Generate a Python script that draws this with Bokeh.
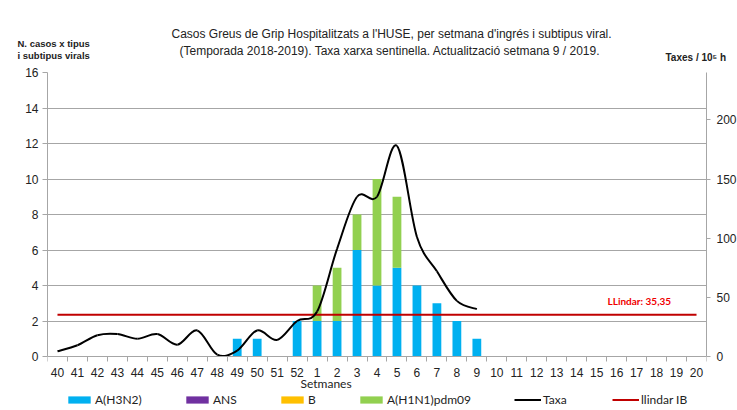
from bokeh.plotting import figure
from bokeh.models import (Range1d, LinearAxis, FixedTicker, Legend, LegendItem,
                          ColumnDataSource, Title, Label)
from bokeh.embed import file_html
from bokeh.resources import INLINE

# ---------------- data ----------------
weeks = [40, 41, 42, 43, 44, 45, 46, 47, 48, 49, 50, 51, 52,
         1, 2, 3, 4, 5, 6, 7, 8, 9, 10, 11, 12, 13, 14, 15, 16, 17, 18, 19, 20]
week_labels = [str(w) for w in weeks]

h3n2 = [0, 0, 0, 0, 0, 0, 0, 0, 0, 1, 1, 0, 2,
        2, 2, 6, 4, 5, 4, 3, 2, 1, 0, 0, 0, 0, 0, 0, 0, 0, 0, 0, 0]
ans = [0] * 33
b = [0] * 33
h1n1 = [0, 0, 0, 0, 0, 0, 0, 0, 0, 0, 0, 0, 0,
        2, 3, 2, 6, 4, 0, 0, 0, 0, 0, 0, 0, 0, 0, 0, 0, 0, 0, 0, 0]

# sentinel-network rate (per 10^5), weeks 40 .. 9
taxa = [4.4, 9.5, 18, 19, 15, 19, 10, 22, 1.6, 5, 22, 14, 30,
        38, 91, 135, 135, 178, 101, 72, 47, 40]
threshold = 35.35

series_names = ["A(H3N2)", "ANS", "B", "A(H1N1)pdm09"]
series_colors = ["#00B0F0", "#7030A0", "#FFC000", "#92D050"]

cases_max = 16
rate_max = 240

# ---------------- figure ----------------
FONT = "Liberation Sans"
LEGF = "Lato"
GRID = "#A6A6A6"
TXT = "#222222"

n = len(weeks)
xc = [i + 0.5 for i in range(n)]

FRAME_H = 338          # frame runs down to the canvas bottom; 0 sits 54 px above it
PLOT_H = 284
below = (FRAME_H - PLOT_H) / PLOT_H   # fraction of the value span kept below zero

p = figure(frame_width=659, frame_height=FRAME_H, x_range=Range1d(0, n),
           y_range=Range1d(-cases_max * below, cases_max),
           output_backend="svg", toolbar_location=None,
           min_border_left=47, min_border_right=31, min_border_top=72, min_border_bottom=0)
p.extra_y_ranges = {"rate": Range1d(-rate_max * below, rate_max)}
p.outline_line_color = None

src = ColumnDataSource(dict(x=xc, **{"A(H3N2)": h3n2, "ANS": ans, "B": b, "A(H1N1)pdm09": h1n1}))
bars = p.vbar_stack(series_names, x="x", width=0.44, color=series_colors,
                    line_color=None, source=src)

thr = p.line([xc[0], xc[-1]], [threshold, threshold], y_range_name="rate",
             line_color="#C00000", line_width=2)

# smooth rate line (cubic bezier segments with Catmull-Rom tangents)
tx = xc[:len(taxa)]
pts = list(zip(tx, taxa))
x0, y0, x1, y1, cx0, cy0, cx1, cy1 = [], [], [], [], [], [], [], []
for i in range(len(pts) - 1):
    pm = pts[i - 1] if i > 0 else pts[i]
    pa = pts[i]
    pb = pts[i + 1]
    pn = pts[i + 2] if i + 2 < len(pts) else pts[i + 1]
    x0.append(pa[0]); y0.append(pa[1]); x1.append(pb[0]); y1.append(pb[1])
    cx0.append(pa[0] + (pb[0] - pm[0]) / 6); cy0.append(pa[1] + (pb[1] - pm[1]) / 6)
    cx1.append(pb[0] - (pn[0] - pa[0]) / 6); cy1.append(pb[1] - (pn[1] - pa[1]) / 6)
p.bezier(x0=x0, y0=y0, x1=x1, y1=y1, cx0=cx0, cy0=cy0, cx1=cx1, cy1=cy1,
         y_range_name="rate", line_color="black", line_width=2)
taxa_leg = p.line([tx[0]], [taxa[0]], y_range_name="rate", line_color="black", line_width=2)

# ---------------- axes ----------------
p.xgrid.visible = False
p.ygrid.ticker = FixedTicker(ticks=list(range(2, cases_max + 1, 2)))
p.ygrid.grid_line_color = GRID

xa = p.xaxis[0]
xa.fixed_location = 0
xa.ticker = FixedTicker(ticks=xc, minor_ticks=list(range(0, n + 1)))
xa.major_label_overrides = {v: lab for v, lab in zip(xc, week_labels)}
xa.major_tick_out = 0
xa.major_tick_in = 0
xa.minor_tick_out = 5
xa.minor_tick_in = 0
xa.minor_tick_line_color = GRID
xa.axis_line_color = GRID
xa.major_label_text_font = FONT
xa.major_label_text_font_size = "12px"
xa.major_label_text_color = TXT
xa.major_label_standoff = 6

ya = p.yaxis[0]
ya.bounds = (0, cases_max)
ya.ticker = FixedTicker(ticks=list(range(0, cases_max + 1, 2)))
ya.major_tick_out = 5
ya.major_tick_in = 0
ya.minor_tick_line_color = None
ya.axis_line_color = GRID
ya.major_tick_line_color = GRID
ya.major_label_text_font = FONT
ya.major_label_text_font_size = "12px"
ya.major_label_text_color = TXT
ya.major_label_standoff = 4

ra = LinearAxis(y_range_name="rate", ticker=FixedTicker(ticks=[0, 50, 100, 150, 200]),
                bounds=(0, rate_max))
ra.major_tick_out = 4
ra.major_tick_in = 0
ra.minor_tick_line_color = None
ra.axis_line_color = GRID
ra.major_tick_line_color = GRID
ra.major_label_text_font = FONT
ra.major_label_text_font_size = "12px"
ra.major_label_text_color = TXT
ra.major_label_standoff = 6
p.add_layout(ra, "right")

# ---------------- titles (above, stacked outward from the frame) ----------------
p.add_layout(Title(text="Taxes / 10⁵ h", align="left", offset=618, standoff=20,
                   text_font=FONT, text_font_size="10px", text_font_style="bold",
                   text_color=TXT), "above")
p.add_layout(Title(text="N.  casos x tipus\ni subtipus virals", align="left", offset=-30,
                   standoff=-44, text_line_height=1.18, text_font=FONT, text_font_size="9.5px",
                   text_font_style="bold", text_color=TXT), "above")
p.add_layout(Title(text="(Temporada 2018-2019). Taxa xarxa sentinella.  Actualització setmana  9 / 2019.",
                   align="left", offset=132, standoff=-36,
                   text_font=FONT, text_font_size="12px", text_font_style="normal",
                   text_color=TXT), "above")
p.add_layout(Title(text="Casos  Greus de Grip Hospitalitzats a l'HUSE, per setmana  d'ingrés i subtipus viral.",
                   align="left", offset=124, standoff=-2,
                   text_font=FONT, text_font_size="12px", text_font_style="normal",
                   text_color=TXT), "above")

# ---------------- texts inside the (extended) frame ----------------
p.add_layout(Label(x=560, y=110, x_units="screen", y_units="screen", text="LLindar: 35,35",
                   text_font=LEGF, text_font_size="10px", text_font_style="bold",
                   text_color="#F00000", text_baseline="middle"))
p.add_layout(Label(x=253, y=27, x_units="screen", y_units="screen", text="Setmanes",
                   text_font=LEGF, text_font_size="12px", text_color=TXT,
                   text_baseline="middle"))

# legend: one entry per box, placed like the original
leg_entries = [("A(H3N2)", bars[0], 18), ("ANS", bars[1], 136), ("B", bars[2], 231),
               ("A(H1N1)pdm09", bars[3], 310), ("Taxa", taxa_leg, 467),
               ("llindar IB", thr, 565)]
for name, rend, xpos in leg_entries:
    lg = Legend(items=[LegendItem(label=name, renderers=[rend])], location=(xpos, 3),
                orientation="horizontal", padding=0, margin=0, spacing=0,
                glyph_width=28 if rend not in (taxa_leg, thr) else 27, glyph_height=9,
                label_height=14, label_standoff=2,
                label_text_font=LEGF, label_text_font_size="12px",
                label_text_color=TXT,
                background_fill_alpha=0, border_line_alpha=0)
    p.add_layout(lg, "center")

open("out.html", "w").write(file_html(p, INLINE))
